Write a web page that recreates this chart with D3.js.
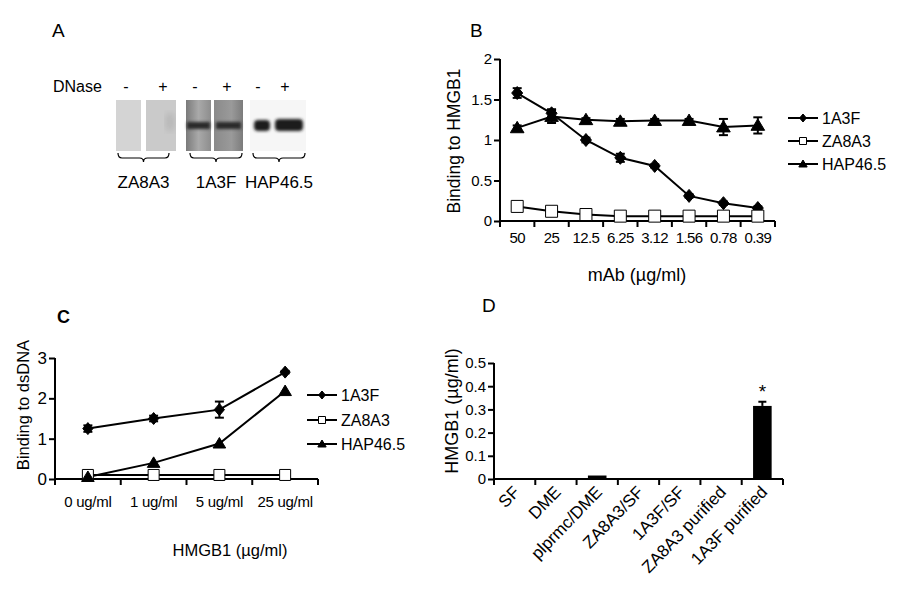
<!DOCTYPE html>
<html><head><meta charset="utf-8">
<script src="https://cdn.jsdelivr.net/npm/d3@7"></script>
<style>
body{margin:0;background:#fff;}
svg{font-family:"Liberation Sans",Arial,sans-serif;}
</style></head>
<body><svg id="c" width="900" height="605"></svg>
<script>
// ---------- DATA ----------
const seriesNames = ["1A3F","ZA8A3","HAP46.5"];
// Panel B
const bCats = ["50","25","12.5","6.25","3.12","1.56","0.78","0.39"];
const b1A3F = [1.58,1.33,1.0,0.78,0.68,0.31,0.22,0.16];
const b1A3Ferr = [0.06,0.05,0.03,0.05,0.02,0.02,0.02,0.02];
const bZA8A3 = [0.18,0.12,0.08,0.06,0.06,0.06,0.06,0.06];
const bHAP = [1.15,1.29,1.25,1.23,1.24,1.24,1.16,1.18];
const bHAPerr = [0.03,0.08,0.02,0.03,0.02,0.02,0.1,0.1];
const bYTicks = [0,0.5,1,1.5,2];
// Panel C
const cCats = ["0 ug/ml","1 ug/ml","5 ug/ml","25 ug/ml"];
const c1A3F = [1.25,1.5,1.72,2.65];
const c1A3Ferr = [0.08,0.07,0.2,0.03];
const cZA8A3 = [0.1,0.1,0.1,0.1];
const cHAP = [0.05,0.4,0.88,2.18];
const cYTicks = [0,1,2,3];
// Panel D
const dCats = ["SF","DME","plprmc/DME","ZA8A3/SF","1A3F/SF","ZA8A3 purified","1A3F purified"];
const dVals = [0,0,0.015,0,0,0,0.315];
const dErr = [0,0,0.003,0,0,0,0.018];
const dYTicks = [0,0.1,0.2,0.3,0.4,0.5];
// Panel A
const aGroups = ["ZA8A3","1A3F","HAP46.5"];
const aSigns = ["-","+","-","+","-","+"];

const svg = d3.select("#c");
const FS = 16;   // legends
const TS = 15;   // tick labels
const HS = 17;   // axis titles

function diamond(s){return `M0,${-s}L${s*0.85},0L0,${s}L${-s*0.85},0Z`;}
function tri(s){return `M0,${-s}L${s*1.05},${s*0.75}L${-s*1.05},${s*0.75}Z`;}
function square(s){return `M${-s},${-s}H${s}V${s}H${-s}Z`;}
const markerPath = {"1A3F":diamond,"ZA8A3":square,"HAP46.5":tri};
const markerFill = {"1A3F":"#000","ZA8A3":"#fff","HAP46.5":"#000"};

function drawMarker(g,name,x,y,s){
  g.append("path").attr("d",markerPath[name](s)).attr("transform",`translate(${x},${y})`)
   .attr("fill",markerFill[name]).attr("stroke","#000").attr("stroke-width",1);
}
function errBar(g,x,y,yLo,yHi,cap){
  g.append("line").attr("x1",x).attr("x2",x).attr("y1",yLo).attr("y2",yHi).attr("stroke","#000").attr("stroke-width",2);
  [yLo,yHi].forEach(v=>g.append("line").attr("x1",x-cap).attr("x2",x+cap).attr("y1",v).attr("y2",v).attr("stroke","#000").attr("stroke-width",2));
}
function legend(g,x0,ys,len){
  seriesNames.forEach((n,i)=>{
    g.append("line").attr("x1",x0).attr("x2",x0+len).attr("y1",ys[i]).attr("y2",ys[i]).attr("stroke","#000").attr("stroke-width",2);
    drawMarker(g,n,x0+len/2,ys[i],n==="ZA8A3"?3.5:4);
    g.append("text").attr("x",x0+len+4).attr("y",ys[i]).attr("dy","0.36em").attr("font-size",FS).text(n);
  });
}
function styleAxis(ax){
  ax.select(".domain").attr("stroke","#000").attr("stroke-width",2);
  ax.selectAll(".tick line").attr("stroke","#000").attr("stroke-width",2);
  ax.selectAll(".tick text").attr("font-size",TS).attr("fill","#000").attr("font-family","Liberation Sans,Arial,sans-serif");
}

// ---------- PANEL A ----------
(function(){
  const g = svg.append("g");
  const defs = svg.append("defs");
  const f = defs.append("filter").attr("id","blur").attr("x","-30%").attr("y","-80%").attr("width","160%").attr("height","260%");
  f.append("feGaussianBlur").attr("stdDeviation",1.8);
  const f2 = defs.append("filter").attr("id","blur2");
  f2.append("feGaussianBlur").attr("stdDeviation",3);
  const gr = defs.append("linearGradient").attr("id","gA3").attr("x1","0").attr("x2","1");
  gr.append("stop").attr("offset","0").attr("stop-color","#7a7a7a");
  gr.append("stop").attr("offset","0.5").attr("stop-color","#a9a9a9");
  gr.append("stop").attr("offset","1").attr("stop-color","#8d8d8d");
  const gr2 = defs.append("linearGradient").attr("id","gA4").attr("x1","0").attr("x2","1");
  gr2.append("stop").attr("offset","0").attr("stop-color","#8a8a8a");
  gr2.append("stop").attr("offset","0.6").attr("stop-color","#9a9a9a");
  gr2.append("stop").attr("offset","1").attr("stop-color","#7c7c7c");

  g.append("text").attr("x",52).attr("y",37).attr("font-size",19).text("A");
  g.append("text").attr("x",53).attr("y",92).attr("font-size",FS).text("DNase");
  const signX = [126,163,195,227,258,285];
  aSigns.forEach((s,i)=>g.append("text").attr("x",signX[i]).attr("y",92).attr("font-size",FS).attr("text-anchor","middle").text(s));
  // blot panels
  g.append("rect").attr("x",116).attr("y",100).attr("width",25).attr("height",51).attr("fill","#d4d4d4");
  g.append("rect").attr("x",146).attr("y",100).attr("width",30).attr("height",51).attr("fill","#cacaca");
  g.append("ellipse").attr("cx",170).attr("cy",122).attr("rx",5).attr("ry",10).attr("fill","#b8b8b8").attr("filter","url(#blur2)");
  g.append("rect").attr("x",186).attr("y",100).attr("width",25).attr("height",51).attr("fill","url(#gA3)");
  g.append("rect").attr("x",214).attr("y",100).attr("width",29).attr("height",51).attr("fill","url(#gA4)");
  g.append("rect").attr("x",187).attr("y",122).attr("width",23).attr("height",7).attr("fill","#2a2a2a").attr("filter","url(#blur)");
  g.append("rect").attr("x",216).attr("y",122).attr("width",25).attr("height",7).attr("fill","#2a2a2a").attr("filter","url(#blur)");
  g.append("rect").attr("x",250).attr("y",100).attr("width",56).attr("height",51).attr("fill","#f6f6f6");
  g.append("rect").attr("x",254).attr("y",120).attr("width",16).attr("height",11).attr("rx",4).attr("fill","#1f1f1f").attr("filter","url(#blur)");
  g.append("rect").attr("x",275).attr("y",119).attr("width",28).attr("height",12).attr("rx",4).attr("fill","#1f1f1f").attr("filter","url(#blur)");
  // braces
  const braces = [[118,169],[190,242],[253,305]];
  braces.forEach((b,i)=>{
    const [x1,x2]=b, m=(x1+x2)/2, y=153;
    g.append("path").attr("d",`M${x1},${y} q0,5 4,5 L${m-4},${y+5} q4,0 4,4 q0,-4 4,-4 L${x2-4},${y+5} q4,0 4,-5`)
      .attr("fill","none").attr("stroke","#000").attr("stroke-width",1.2);
    g.append("text").attr("x",m).attr("y",188).attr("font-size",FS+1).attr("text-anchor","middle").text(aGroups[i]);
  });
})();

// ---------- PANEL B ----------
(function(){
  const g = svg.append("g");
  const x = d3.scaleBand().domain(bCats).range([500,775]);
  const y = d3.scaleLinear().domain([0,2]).range([221,59]);
  g.append("text").attr("x",470).attr("y",37).attr("font-size",19).text("B");
  const ax = g.append("g").attr("transform","translate(0,221)").call(d3.axisBottom(x).tickSize(0).tickPadding(11));
  styleAxis(ax); ax.select(".domain").attr("d","M500,0H775");
  bCats.concat([null]).forEach((c,i)=>{
    const xx = 500 + i*x.bandwidth();
    g.append("line").attr("x1",xx).attr("x2",xx).attr("y1",221).attr("y2",227).attr("stroke","#000").attr("stroke-width",2);
  });
  ax.selectAll(".tick text").attr("letter-spacing",-0.6);
  const ay = g.append("g").attr("transform","translate(500,0)").call(d3.axisLeft(y).tickValues(bYTicks).tickFormat(d3.format("")).tickSize(6).tickPadding(2));
  styleAxis(ay); ay.select(".domain").attr("d","M0,59V221");
  g.append("text").attr("transform","translate(460,141) rotate(-90)").attr("text-anchor","middle").attr("font-size",HS+0.5).text("Binding to HMGB1");
  g.append("text").attr("x",637).attr("y",281).attr("text-anchor","middle").attr("font-size",HS+1).text("mAb (µg/ml)");
  const cx = c=>x(c)+x.bandwidth()/2;
  const line = vals=>d3.line().x((d,i)=>cx(bCats[i])).y(d=>y(d))(vals);
  [bZA8A3,bHAP,b1A3F].forEach(vals=>{
    g.append("path").attr("d",line(vals)).attr("fill","none").attr("stroke","#000").attr("stroke-width",2);
  });
  [[b1A3F,"1A3F",b1A3Ferr],[bHAP,"HAP46.5",bHAPerr],[bZA8A3,"ZA8A3",null]].forEach(([vals,n,err])=>{
    vals.forEach((v,i)=>{
      if(err) errBar(g,cx(bCats[i]),y(v),y(v-err[i]),y(v+err[i]),4.5);
      drawMarker(g,n,cx(bCats[i]),y(v),n==="ZA8A3"?6:6.5);
    });
  });
  legend(g,788,[118,141,164],30);
})();

// ---------- PANEL C ----------
(function(){
  const g = svg.append("g");
  const x = d3.scaleBand().domain(cCats).range([55,318]);
  const y = d3.scaleLinear().domain([0,3]).range([479,358]);
  g.append("text").attr("x",57).attr("y",323).attr("font-size",18).attr("font-weight","bold").text("C");
  const ax = g.append("g").attr("transform","translate(0,479)").call(d3.axisBottom(x).tickSize(0).tickPadding(17));
  styleAxis(ax); ax.select(".domain").attr("d","M55,0H318");
  ax.selectAll(".tick text").attr("letter-spacing",-0.3);
  cCats.concat([null]).forEach((c,i)=>{
    const xx = 55 + i*x.bandwidth();
    g.append("line").attr("x1",xx).attr("x2",xx).attr("y1",479).attr("y2",485).attr("stroke","#000").attr("stroke-width",2);
  });
  const ay = g.append("g").attr("transform","translate(55,0)").call(d3.axisLeft(y).tickValues(cYTicks).tickFormat(d3.format("")).tickSize(6).tickPadding(2));
  styleAxis(ay); ay.select(".domain").attr("d","M0,358V479");
  ay.selectAll(".tick text").attr("font-size",FS+1);
  g.append("text").attr("transform","translate(29,405) rotate(-90)").attr("text-anchor","middle").attr("font-size",HS-0.5).text("Binding to dsDNA");
  g.append("text").attr("x",230).attr("y",556).attr("text-anchor","middle").attr("font-size",HS-0.5).text("HMGB1 (µg/ml)");
  const cx = c=>x(c)+x.bandwidth()/2;
  const line = vals=>d3.line().x((d,i)=>cx(cCats[i])).y(d=>y(d))(vals);
  [cZA8A3,cHAP,c1A3F].forEach(vals=>g.append("path").attr("d",line(vals)).attr("fill","none").attr("stroke","#000").attr("stroke-width",2));
  c1A3F.forEach((v,i)=>{errBar(g,cx(cCats[i]),y(v),y(v-c1A3Ferr[i]),y(v+c1A3Ferr[i]),4.5);drawMarker(g,"1A3F",cx(cCats[i]),y(v),6);});
  cZA8A3.forEach((v,i)=>drawMarker(g,"ZA8A3",cx(cCats[i]),y(v),5.5));
  cHAP.forEach((v,i)=>drawMarker(g,"HAP46.5",cx(cCats[i]),y(v),6));
  legend(g,307,[395,420,444],30);
})();

// ---------- PANEL D ----------
(function(){
  const g = svg.append("g");
  const x = d3.scaleBand().domain(dCats).range([494,783]).paddingInner(0.55).paddingOuter(0.275);
  const xb = d3.scaleBand().domain(dCats).range([494,783]);
  const y = d3.scaleLinear().domain([0,0.5]).range([479,363]);
  g.append("text").attr("x",482).attr("y",312).attr("font-size",19).text("D");
  g.selectAll("rect.bar").data(dVals).join("rect").attr("class","bar")
    .attr("x",(d,i)=>x(dCats[i])).attr("width",x.bandwidth())
    .attr("y",d=>y(d)).attr("height",d=>479-y(d)).attr("fill","#000");
  dVals.forEach((v,i)=>{ if(dErr[i]>0.005){
    const cxv = x(dCats[i])+x.bandwidth()/2;
    g.append("line").attr("x1",cxv).attr("x2",cxv).attr("y1",y(v)).attr("y2",y(v+dErr[i])).attr("stroke","#000").attr("stroke-width",2);
    g.append("line").attr("x1",cxv-4).attr("x2",cxv+4).attr("y1",y(v+dErr[i])).attr("y2",y(v+dErr[i])).attr("stroke","#000").attr("stroke-width",2);
    g.append("text").attr("x",cxv).attr("y",y(v+dErr[i])-4).attr("text-anchor","middle").attr("font-size",19).text("*");
  }});
  const ax = g.append("g").attr("transform","translate(0,479)").call(d3.axisBottom(xb).tickSize(0).tickPadding(0));
  styleAxis(ax); ax.select(".domain").attr("d","M494,0H783");
  ax.selectAll(".tick text").attr("font-size",17).attr("text-anchor","end").attr("dy",0).attr("transform","translate(6,14) rotate(-46)");
  dCats.concat([null]).forEach((c,i)=>{
    const xx = 494 + i*xb.bandwidth();
    g.append("line").attr("x1",xx).attr("x2",xx).attr("y1",479).attr("y2",485).attr("stroke","#000").attr("stroke-width",2);
  });
  const ay = g.append("g").attr("transform","translate(494,0)").call(d3.axisLeft(y).tickValues(dYTicks).tickFormat(d3.format("")).tickSize(6).tickPadding(2));
  styleAxis(ay); ay.select(".domain").attr("d","M0,363V479");
  g.append("text").attr("transform","translate(458,411) rotate(-90)").attr("text-anchor","middle").attr("font-size",HS+1).text("HMGB1 (µg/ml)");
})();
</script></body></html>
